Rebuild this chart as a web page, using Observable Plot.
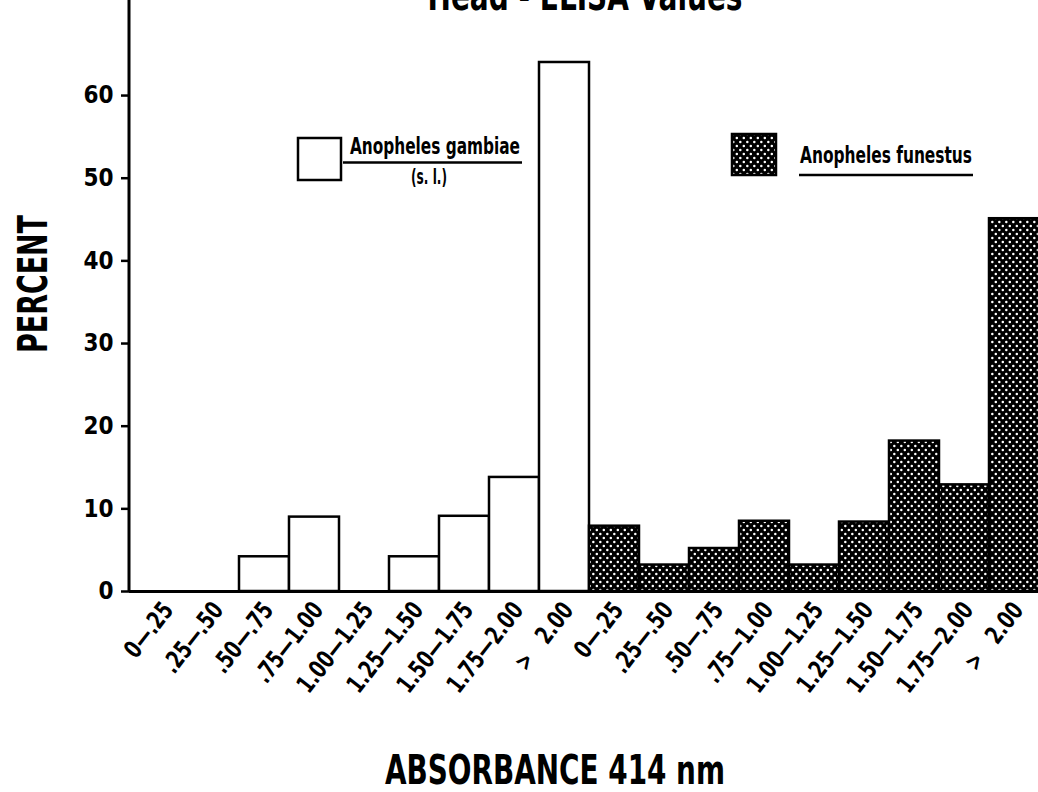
<!DOCTYPE html>
<html>
<head>
<meta charset="utf-8">
<script src="https://cdn.jsdelivr.net/npm/d3@7"></script>
<script src="https://cdn.jsdelivr.net/npm/@observablehq/plot@0.6"></script>
<style>
  html, body { margin: 0; padding: 0; background: #fff; overflow: hidden; }
  #chart svg { max-width: none !important; display: block; }
  [aria-label^="y-axis"] line, [aria-label^="y-axis"] path { stroke-width: 2.5px; }
</style>
</head>
<body>
<div id="chart"></div>
<script>
// ---- data ----
const categories = ["0\u2014.25", ".25\u2014.50", ".50\u2014.75", ".75\u20141.00", "1.00\u20141.25", "1.25\u20141.50", "1.50\u20141.75", "1.75\u20142.00", ">\u00a0\u00a0\u00a02.00"];
const gambiae = [0, 0, 4.2, 9.0, 0, 4.2, 9.1, 13.8, 64.0];
const funestus = [7.9, 3.2, 5.2, 8.5, 3.2, 8.4, 18.2, 12.9, 45.1];
const speciesNames = ["Anopheles gambiae", "Anopheles funestus"];
const yTicks = [0, 10, 20, 30, 40, 50, 60];
const titleText = "Head - ELISA Values";
const xLabel = "ABSORBANCE 414 nm";
const yLabel = "PERCENT";

const FONT = "'Liberation Sans Narrow', 'DejaVu Sans Condensed', 'Arial Narrow', sans-serif";

const rows = [gambiae, funestus].flatMap((vals, si) =>
  categories.map((c, i) => ({key: `${si}-${i}`, label: c, species: speciesNames[si], value: vals[i]})));
const gRows = rows.filter(d => d.species === speciesNames[0]);
const fRows = rows.filter(d => d.species === speciesNames[1]);

function defsMark() {
  const g = d3.create("svg:g");
  const pat = g.append("defs").append("pattern")
    .attr("id", "dots").attr("patternUnits", "userSpaceOnUse")
    .attr("width", 7).attr("height", 8);
  pat.append("rect").attr("width", 7).attr("height", 8).attr("fill", "#000");
  pat.append("circle").attr("cx", 1.8).attr("cy", 2).attr("r", 1.25).attr("fill", "#fff");
  pat.append("circle").attr("cx", 5.3).attr("cy", 6).attr("r", 1.25).attr("fill", "#fff");
  return g.node();
}

function txt(g, s, x, y, size, opts = {}) {
  const t = g.append("text").text(s)
    .attr("transform", `translate(${x},${y})${opts.rotate ? ` rotate(${opts.rotate})` : ""}`)
    .style("font-family", FONT).style("font-weight", "bold")
    .style("font-size", size + "px").style("fill", "#000")
    .style("text-anchor", opts.anchor || "start");
  if (opts.length) t.attr("textLength", opts.length).attr("lengthAdjust", "spacingAndGlyphs");
  return t;
}

function annotations(index, scales, values, dim) {
  const g = d3.create("svg:g");
  const x0 = dim.marginLeft;
  const yBase = dim.height - dim.marginBottom;
  g.append("line").attr("x1", x0).attr("x2", x0).attr("y1", 0).attr("y2", yBase)
    .attr("stroke", "#000").attr("stroke-width", 3);
  txt(g, titleText, 585, 10, 40, {anchor: "middle", length: 315});
  txt(g, yLabel, 47, 284, 40, {anchor: "middle", rotate: -90, length: 138});
  txt(g, xLabel, 555, 784, 40, {anchor: "middle", length: 340});
  // legend: gambiae
  g.append("rect").attr("x", 298).attr("y", 138).attr("width", 43).attr("height", 42)
    .attr("fill", "#fff").attr("stroke", "#000").attr("stroke-width", 2.5);
  txt(g, speciesNames[0], 350, 154, 23, {length: 170});
  g.append("line").attr("x1", 343).attr("x2", 522).attr("y1", 162.5).attr("y2", 162.5)
    .attr("stroke", "#000").attr("stroke-width", 2.5);
  txt(g, "(s. l.)", 429, 184, 21, {anchor: "middle", length: 36});
  // legend: funestus
  g.append("rect").attr("x", 732).attr("y", 134).attr("width", 44).attr("height", 41)
    .attr("fill", "url(#dots)").attr("stroke", "#000").attr("stroke-width", 2.5);
  txt(g, speciesNames[1], 800, 163, 23, {length: 172});
  g.append("line").attr("x1", 799).attr("x2", 973).attr("y1", 175).attr("y2", 175)
    .attr("stroke", "#000").attr("stroke-width", 2.5);
  return g.node();
}

const chart = Plot.plot({
  width: 1045,
  height: 792,
  marginLeft: 129,
  marginRight: 0,
  marginTop: 0,
  marginBottom: 201,
  style: {fontFamily: FONT, fontWeight: "bold", fontSize: "24px", color: "#000", background: "#fff", maxWidth: "none"},
  x: {type: "band", domain: rows.map(d => d.key), padding: 0, insetLeft: 3.6, axis: null},
  y: {domain: [0, 71.5], ticks: yTicks, tickSize: 8, tickPadding: 8, label: null, tickFormat: d => String(d)},
  marks: [
    defsMark,
    Plot.barY(gRows, {x: "key", y: "value", fill: "#fff", stroke: "#000", strokeWidth: 2.5}),
    Plot.barY(fRows, {x: "key", y: "value", fill: "url(#dots)", stroke: "#000", strokeWidth: 2.5}),
    Plot.ruleY([0], {stroke: "#000", strokeWidth: 3}),
    Plot.text(rows, {x: "key", frameAnchor: "bottom", text: "label", rotate: -52, textAnchor: "end",
      dx: 10, dy: 19, fontSize: 25, fontWeight: "bold", fontFamily: FONT, fill: "#000"}),
    annotations
  ]
});
document.getElementById("chart").appendChild(chart);

// condense the rotated tick labels like the reference's narrow type
d3.select(chart).selectAll('g[aria-label="text"] text').each(function() {
  const len = this.getComputedTextLength();
  this.setAttribute("textLength", (len * 0.8).toFixed(1));
  this.setAttribute("lengthAdjust", "spacingAndGlyphs");
});
</script>
</body>
</html>
